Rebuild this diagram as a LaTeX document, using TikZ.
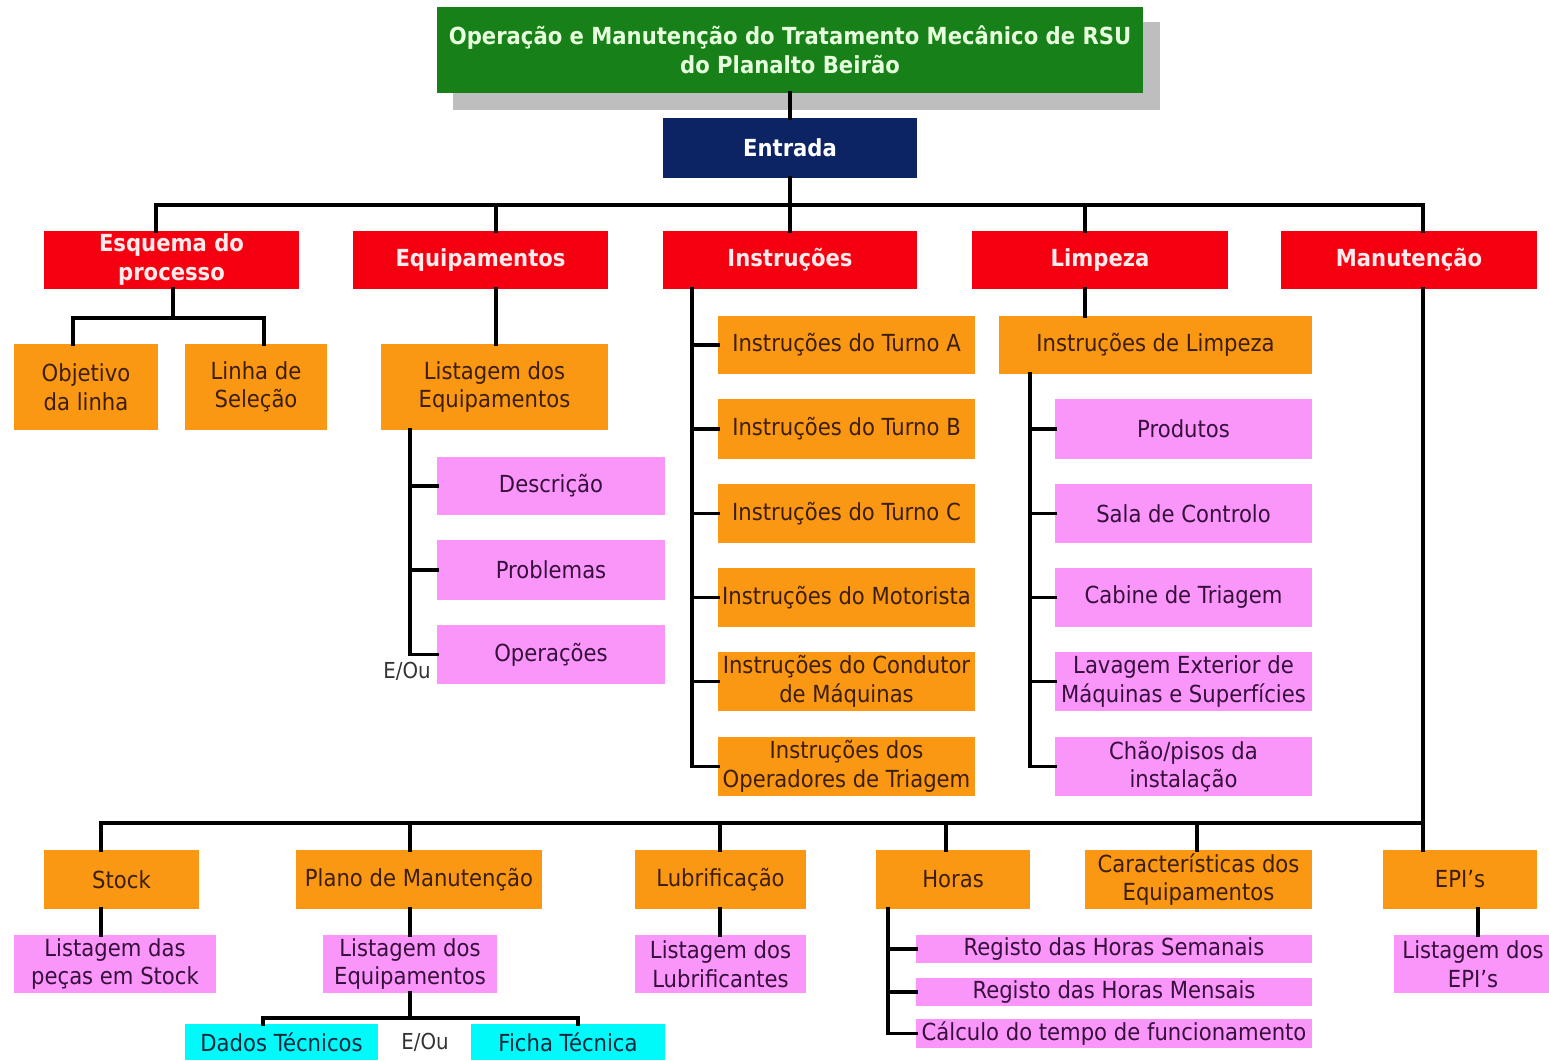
\documentclass[tikz,border=0pt]{standalone}
\usepackage{fontspec}
\setmainfont{DejaVu Sans}[FakeStretch=0.9]
\definecolor{cGr}{RGB}{24,128,24}
\definecolor{cNv}{RGB}{12,36,100}
\definecolor{cRd}{RGB}{245,0,16}
\definecolor{cOr}{RGB}{250,152,20}
\definecolor{cPk}{RGB}{250,150,250}
\definecolor{cCy}{RGB}{0,250,250}
\definecolor{cSh}{RGB}{190,190,190}
\definecolor{tOr}{RGB}{60,30,10}
\definecolor{tPk}{RGB}{55,15,60}
\definecolor{tCy}{RGB}{10,40,60}
\definecolor{tRd}{RGB}{255,235,235}
\definecolor{tGr}{RGB}{230,255,220}
\newcommand\bx[7]{\node[#1, minimum width={(#5-#3)*1pt}, minimum height={(#6-#4)*1pt}] (#2) at ({(#3+#5)/2},{(#4+#6)/2}) {#7};}
\begin{document}
\begin{tikzpicture}[x=1pt,y=-1pt,
  box/.style={inner sep=0pt, outer sep=0pt, align=center, font=\fontsize{23.5}{28.5}\selectfont},
  obox/.style={box, fill=cOr, text=tOr},
  pbox/.style={box, fill=cPk, text=tPk},
  cbox/.style={box, fill=cCy, text=tCy},
  rbox/.style={box, fill=cRd, text=tRd, font=\bfseries\fontsize{23.5}{29}\selectfont},
  tbox/.style={box, fill=cGr, text=tGr, font=\bfseries\fontsize{23.5}{29}\selectfont},
  nbox/.style={box, fill=cNv, text=white, font=\bfseries\fontsize{23.5}{28}\selectfont},
  conn/.style={line width=3.5pt, draw=black, line cap=rect, line join=miter},
  eou/.style={inner sep=0pt, text=black!80, font=\fontsize{22}{26}\selectfont}]
\useasboundingbox (0,0) rectangle (1549,1060);
\fill[white] (0,0) rectangle (1549,1060);
% title + shadow
\fill[cSh] (453,22) rectangle (1160,110);
\bx{tbox}{title}{437}{7}{1143}{93}{Operação e Manutenção do Tratamento Mecânico de RSU\\do Planalto Beirão}
\bx{nbox}{entr}{663}{118}{917}{178}{Entrada}
% level 1
\bx{rbox}{esq}{44}{231}{299}{289}{Esquema do\\processo}
\bx{rbox}{equ}{353}{231}{608}{289}{Equipamentos}
\bx{rbox}{instr}{663}{231}{917}{289}{Instruções}
\bx{rbox}{limp}{972}{231}{1228}{289}{Limpeza}
\bx{rbox}{manu}{1281}{231}{1537}{289}{Manutenção}
% esquema
\bx{obox}{obj}{14}{344}{158}{430}{Objetivo\\da linha}
\bx{obox}{lin}{185}{344}{327}{430}{Linha de\\Seleção}
% equipamentos
\bx{obox}{listeq}{381}{344}{608}{430}{Listagem dos\\Equipamentos}
\bx{pbox}{desc}{437}{457}{665}{515}{Descrição}
\bx{pbox}{prob}{437}{540}{665}{600}{Problemas}
\bx{pbox}{oper}{437}{625}{665}{684}{Operações}
\node[eou] (eo1) at (407,671) {E/Ou};
% instrucoes
\bx{obox}{ia}{718}{316}{975}{374}{Instruções do Turno A}
\bx{obox}{ib}{718}{399}{975}{459}{Instruções do Turno B}
\bx{obox}{ic}{718}{484}{975}{543}{Instruções do Turno C}
\bx{obox}{im}{718}{568}{975}{627}{Instruções do Motorista}
\bx{obox}{icd}{718}{652}{975}{711}{Instruções do Condutor\\de Máquinas}
\bx{obox}{iop}{718}{737}{975}{796}{Instruções dos\\Operadores de Triagem}
% limpeza
\bx{obox}{ilimp}{999}{316}{1312}{374}{Instruções de Limpeza}
\bx{pbox}{prod}{1055}{399}{1312}{459}{Produtos}
\bx{pbox}{sala}{1055}{484}{1312}{543}{Sala de Controlo}
\bx{pbox}{cab}{1055}{568}{1312}{627}{Cabine de Triagem}
\bx{pbox}{lav}{1055}{652}{1312}{711}{Lavagem Exterior de\\Máquinas e Superfícies}
\bx{pbox}{chao}{1055}{737}{1312}{796}{Chão/pisos da\\instalação}
% manutencao row
\bx{obox}{stock}{44}{850}{199}{909}{Stock}
\bx{obox}{plano}{296}{850}{542}{909}{Plano de Manutenção}
\bx{obox}{lubr}{635}{850}{806}{909}{Lubrificação}
\bx{obox}{horas}{876}{850}{1030}{909}{Horas}
\bx{obox}{carac}{1085}{850}{1312}{909}{Características dos\\Equipamentos}
\bx{obox}{epi}{1383}{850}{1537}{909}{EPI’s}
\bx{pbox}{lstock}{14}{935}{216}{993}{Listagem das\\peças em Stock}
\bx{pbox}{lplano}{323}{935}{497}{993}{Listagem dos\\Equipamentos}
\bx{pbox}{llubr}{635}{935}{806}{993}{Listagem dos\\Lubrificantes}
\bx{pbox}{lepi}{1394}{935}{1552}{993}{Listagem dos\\EPI’s}
\bx{pbox}{sem}{916}{935}{1312}{963}{Registo das Horas Semanais}
\bx{pbox}{men}{916}{978}{1312}{1006}{Registo das Horas Mensais}
\bx{pbox}{calc}{916}{1019}{1312}{1048}{Cálculo do tempo de funcionamento}
\bx{cbox}{dados}{185}{1024}{378}{1060}{Dados Técnicos}
\bx{cbox}{ficha}{471}{1024}{665}{1060}{Ficha Técnica}
\node[eou] (eo2) at (425,1042) {E/Ou};
% ---------- connectors
\coordinate (b1) at (156,205);
\coordinate (b2) at (496,205);
\coordinate (b4) at (1085,205);
\coordinate (b5) at (1423,205);
\draw[conn] (title.south -| entr.north) -- (entr.north);
\draw[conn] (entr.south) -- (instr.north);
\draw[conn] (b1) -- (b5);
\draw[conn] (b1) -- (esq.north -| b1);
\draw[conn] (b2) -- (equ.north -| b2);
\draw[conn] (b4) -- (limp.north -| b4);
\draw[conn] (b5) -- (manu.north -| b5);
% esquema
\coordinate (e0) at (173,318);
\coordinate (e1) at (73,318);
\coordinate (e2) at (264,318);
\draw[conn] (esq.south -| e0) -- (e0);
\draw[conn] (obj.north -| e1) -- (e1) -- (e2) -- (lin.north -| e2);
% equipamentos
\draw[conn] (equ.south -| b2) -- (listeq.north -| b2);
\coordinate (q0) at (410,0);
\draw[conn] (listeq.south -| q0) |- (oper.west);
\draw[conn] (desc.west) -- (desc.west -| q0);
\draw[conn] (prob.west) -- (prob.west -| q0);
% instrucoes
\coordinate (i0) at (692,0);
\draw[conn] (instr.south -| i0) |- (iop.west);
\foreach \n in {ia,ib,ic,im,icd} \draw[conn] (\n.west) -- (\n.west -| i0);
% limpeza
\draw[conn] (limp.south -| b4) -- (ilimp.north -| b4);
\coordinate (l0) at (1030,0);
\draw[conn] (ilimp.south -| l0) |- (chao.west);
\foreach \n in {prod,sala,cab,lav} \draw[conn] (\n.west) -- (\n.west -| l0);
% manutencao
\coordinate (m1) at (101,823);
\coordinate (m2) at (410,823);
\coordinate (m3) at (720,823);
\coordinate (m4) at (946,823);
\coordinate (m6) at (1197,823);
\coordinate (m5) at (1423,823);
\draw[conn] (manu.south -| b5) -- (epi.north -| b5);
\draw[conn] (m1) -- (m5);
\draw[conn] (m1) -- (stock.north -| m1);
\draw[conn] (m2) -- (plano.north -| m2);
\draw[conn] (m3) -- (lubr.north -| m3);
\draw[conn] (m4) -- (horas.north -| m4);
\draw[conn] (m6) -- (carac.north -| m6);
\draw[conn] (stock.south -| m1) -- (lstock.north -| m1);
\draw[conn] (plano.south -| m2) -- (lplano.north -| m2);
\draw[conn] (lubr.south -| m3) -- (llubr.north -| m3);
\coordinate (ep) at (1478,0);
\draw[conn] (epi.south -| ep) -- (lepi.north -| ep);
% plano children
\coordinate (p0) at (410,1018);
\coordinate (p1) at (263,1018);
\coordinate (p2) at (578,1018);
\draw[conn] (lplano.south -| p0) -- (p0);
\draw[conn] (dados.north -| p1) -- (p1) -- (p2) -- (ficha.north -| p2);
% horas children
\coordinate (h0) at (888,0);
\draw[conn] (horas.south -| h0) |- (calc.west);
\draw[conn] (sem.west) -- (sem.west -| h0);
\draw[conn] (men.west) -- (men.west -| h0);
\end{tikzpicture}
\end{document}
